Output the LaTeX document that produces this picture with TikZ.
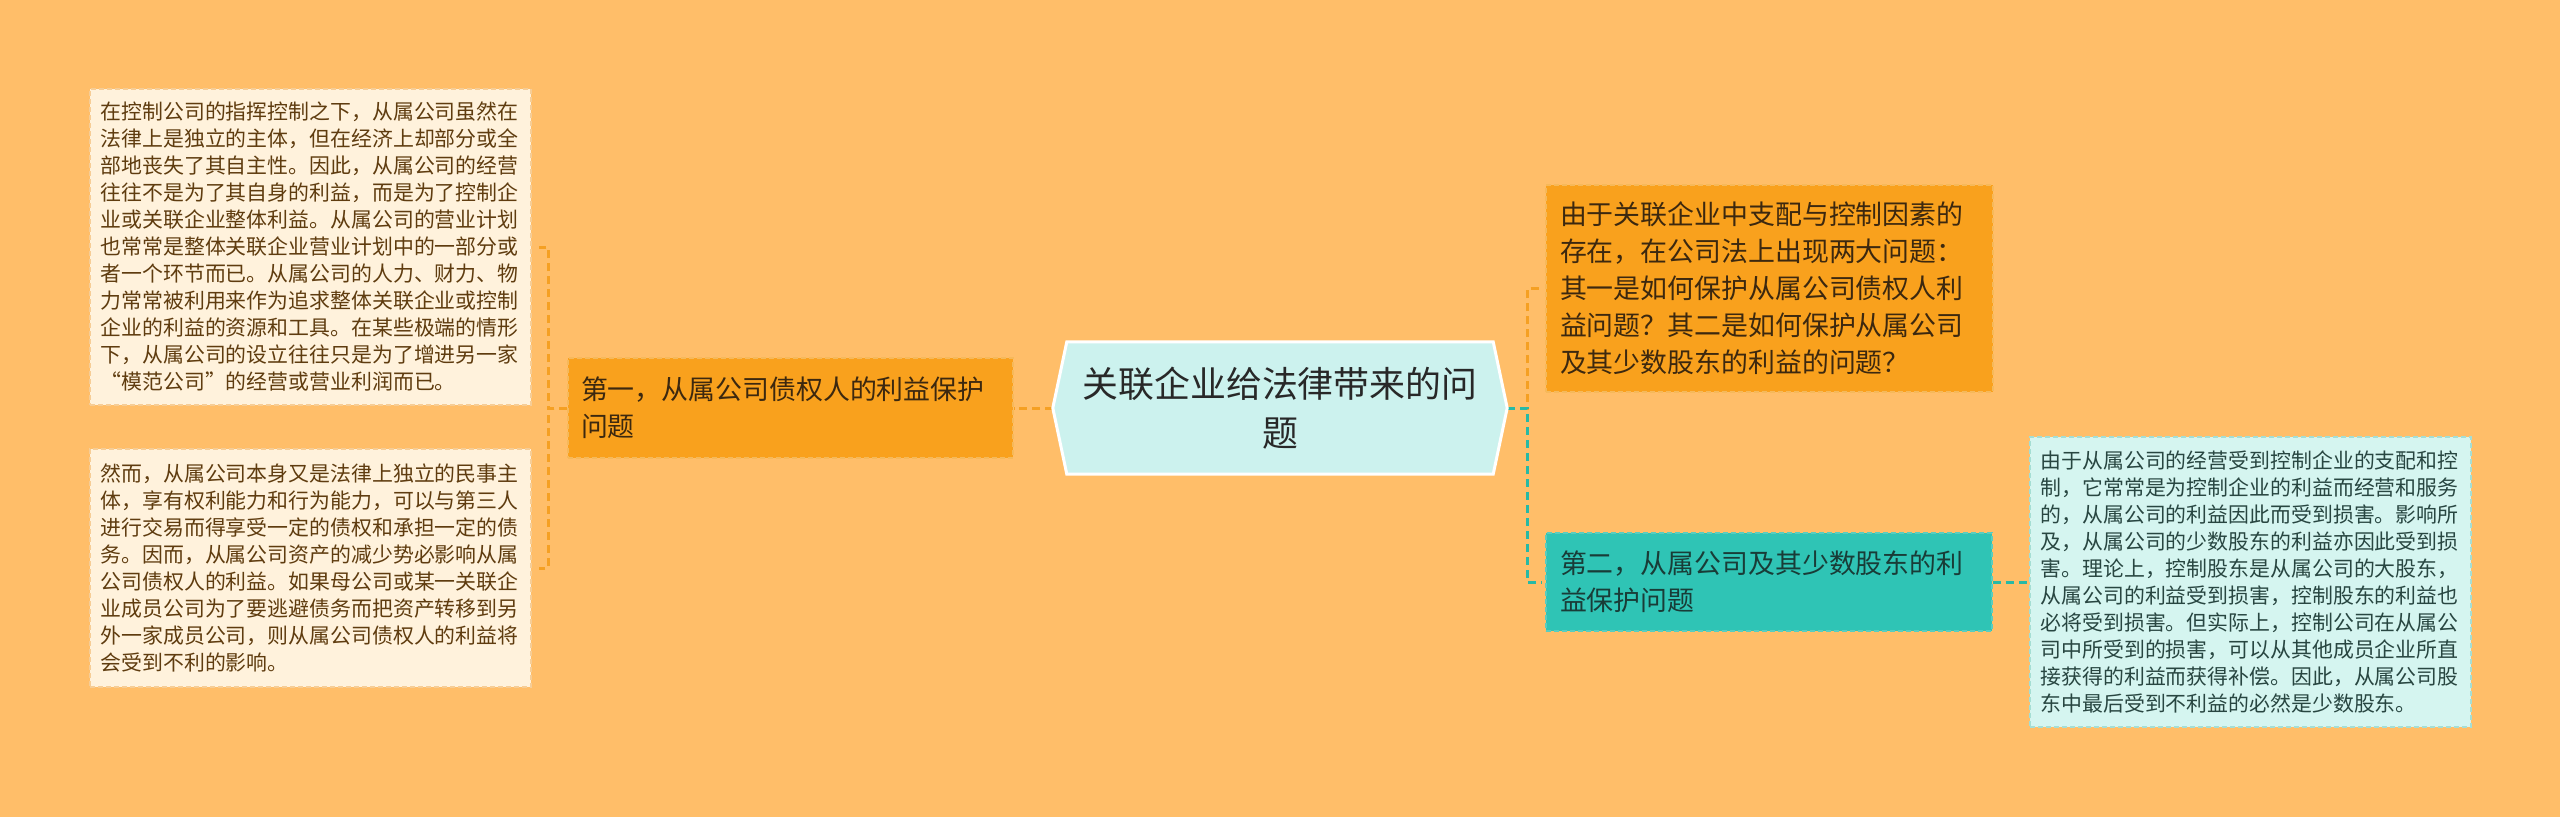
\documentclass[tikz,border=0pt]{standalone}
\usepackage{fontspec}
\setmainfont{Noto Sans CJK SC}
\usetikzlibrary{calc}
\definecolor{bgc}{RGB}{255,190,105}
\definecolor{orangeN}{RGB}{249,161,29}
\definecolor{orangeB}{RGB}{246,185,90}
\definecolor{leafF}{RGB}{255,242,220}
\definecolor{leafB}{RGB}{246,205,150}
\definecolor{tealN}{RGB}{47,196,181}
\definecolor{tealB}{RGB}{90,205,190}
\definecolor{cyanF}{RGB}{213,245,240}
\definecolor{cyanB}{RGB}{165,222,212}
\definecolor{centerF}{RGB}{204,242,238}
\definecolor{lineO}{RGB}{245,160,35}
\definecolor{lineT}{RGB}{40,185,165}
\definecolor{txtLeaf}{RGB}{95,60,15}
\definecolor{txtOr}{RGB}{60,40,15}
\definecolor{txtTeal}{RGB}{25,60,55}
\definecolor{txtCyan}{RGB}{40,70,65}
\definecolor{txtCenter}{RGB}{40,40,40}
\pgfdeclarelayer{bg}
\pgfsetlayers{bg,main}
\begin{document}
\begin{tikzpicture}[x=1pt,y=-1pt,
  leafbox/.style={draw=leafB, fill=leafF, line width=1.5pt, dash pattern=on 5pt off 3pt,
    text=txtLeaf, font=\fontsize{20.9}{27}\selectfont, text width=420pt, align=left,
    inner xsep=10.5pt, inner ysep=0pt},
  cyanbox/.style={leafbox, draw=cyanB, fill=cyanF, text=txtCyan},
  orbox/.style={draw=orangeB, fill=orangeN, line width=1.5pt, dash pattern=on 5pt off 3pt,
    text=txtOr, font=\fontsize{26.9}{37}\selectfont, align=left, inner ysep=0pt},
  tealbox/.style={orbox, draw=tealB, fill=tealN, text=txtTeal},
  conO/.style={draw=lineO, line width=3pt, dash pattern=on 8pt off 5pt},
  conT/.style={draw=lineT, line width=3pt, dash pattern=on 8pt off 5pt}
]
\begin{pgfonlayer}{bg}
\fill[bgc] (0,0) rectangle (2560,817);
\end{pgfonlayer}
\useasboundingbox (0,0) rectangle (2560,817);

% leaves left
\node[leafbox, minimum height=316pt] (l1) at (310.5,247) {在控制公司的指挥控制之下，从属公司虽然在\\法律上是独立的主体，但在经济上却部分或全\\部地丧失了其自主性。因此，从属公司的经营\\往往不是为了其自身的利益，而是为了控制企\\业或关联企业整体利益。从属公司的营业计划\\也常常是整体关联企业营业计划中的一部分或\\者一个环节而已。从属公司的人力、财力、物\\力常常被利用来作为追求整体关联企业或控制\\企业的利益的资源和工具。在某些极端的情形\\下，从属公司的设立往往只是为了增进另一家\\“模范公司”的经营或营业利润而已。};
\node[leafbox, minimum height=238pt] (l2) at (310.5,568) {然而，从属公司本身又是法律上独立的民事主\\体，享有权利能力和行为能力，可以与第三人\\进行交易而得享受一定的债权和承担一定的债\\务。因而，从属公司资产的减少势必影响从属\\公司债权人的利益。如果母公司或某一关联企\\业成员公司为了要逃避债务而把资产转移到另\\外一家成员公司，则从属公司债权人的利益将\\会受到不利的影响。};

% first level left
\node[orbox, text width=419pt, inner xsep=13pt, minimum height=100pt] (m1) at (790.5,408) {第一，从属公司债权人的利益保护\\问题};

% center
\node[minimum width=454pt, minimum height=132pt, inner sep=0pt] (c) at (1280,408) {};
\filldraw[fill=centerF, draw=white, line width=3pt, line join=miter]
  (c.west) -- ([xshift=14pt]c.north west) -- ([xshift=-14pt]c.north east) -- (c.east)
  -- ([xshift=-14pt]c.south east) -- ([xshift=14pt]c.south west) -- cycle;
\node[text=txtCenter, font=\fontsize{35.9}{49}\selectfont, align=center] (ct) at (c) {关联企业给法律带来的问\\题};

% right first level
\node[orbox, text width=419pt, inner xsep=14pt, minimum height=207pt] (r1) at (1769.5,288.5) {由于关联企业中支配与控制因素的\\存在，在公司法上出现两大问题：\\其一是如何保护从属公司债权人利\\益问题？其二是如何保护从属公司\\及其少数股东的利益的问题？};
\node[tealbox, text width=418pt, inner xsep=14pt, minimum height=98pt] (r2) at (1769,582) {第二，从属公司及其少数股东的利\\益保护问题};

% right leaf
\node[cyanbox, minimum height=290pt] (rl) at (2250.5,582) {由于从属公司的经营受到控制企业的支配和控\\制，它常常是为控制企业的利益而经营和服务\\的，从属公司的利益因此而受到损害。影响所\\及，从属公司的少数股东的利益亦因此受到损\\害。理论上，控制股东是从属公司的大股东，\\从属公司的利益受到损害，控制股东的利益也\\必将受到损害。但实际上，控制公司在从属公\\司中所受到的损害，可以从其他成员企业所直\\接获得的利益而获得补偿。因此，从属公司股\\东中最后受到不利益的必然是少数股东。};

% connectors
\begin{pgfonlayer}{bg}
\draw[conO] (c.west) -- (m1.east);
\draw[conO, shorten >=7pt] (m1.west) -- ++(-19,0) |- (l1.east);
\draw[conO, shorten >=7pt] (m1.west) -- ++(-19,0) |- (l2.east);
\draw[conO, shorten >=3pt] (c.east) -- ++(20,0) |- (r1.west);
\draw[conT, shorten >=3pt] (c.east) -- ++(20,0) |- (r2.west);
\draw[conT] (r2.east) -- (rl.west);
\end{pgfonlayer}
\end{tikzpicture}
\end{document}
